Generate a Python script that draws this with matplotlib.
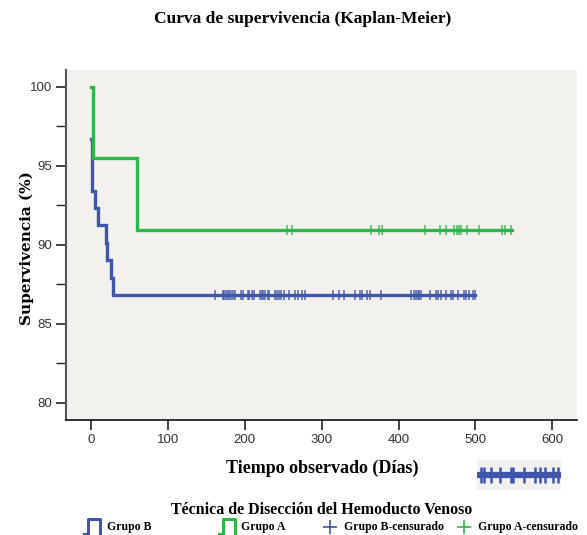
import matplotlib
matplotlib.use("Agg")
import matplotlib.pyplot as plt
from matplotlib.lines import Line2D
import numpy as np

# ---- data ----
# Grupo B: step function (time of event, survival after event)
b_times = [0, 1.7, 5.2, 8.7, 19.5, 21.2, 26.0, 29.0]
b_surv = [96.7, 93.42, 92.34, 91.25, 90.13, 89.03, 87.91, 86.82]
b_end = 500
b_cens = [161.4, 171.4, 173.1, 175.7, 178.3, 180.0, 182.2, 184.4, 187.0, 194.8,
          198.3, 203.9, 205.6, 210.0, 212.2, 220.0, 222.6, 224.3, 226.9, 229.9,
          232.1, 239.9, 242.5, 245.1, 247.3, 251.2, 258.1, 264.7, 268.6, 274.2,
          277.7, 314.5, 322.8, 329.3, 342.7, 350.1, 352.3, 358.8, 363.1, 377.5,
          416.1, 419.5, 422.6, 424.8, 426.9, 429.1, 441.2, 448.6, 450.8, 455.1,
          461.6, 468.6, 470.3, 477.2, 484.6, 487.7, 491.1, 496.8, 499.8]

# Grupo A
a_times = [0, 3.0, 60.0]
a_surv = [100.0, 95.45, 90.91]
a_end = 548
a_cens = [254.7, 261.2, 364.4, 374.0, 378.3, 434.7, 454.3, 461.6, 471.6, 475.9,
          478.1, 481.6, 489.0, 505.0, 534.5, 538.9, 546.2]

xticks = [0, 100, 200, 300, 400, 500, 600]
yticks = [80, 85, 90, 95, 100]

title = "Curva de supervivencia (Kaplan-Meier)"
xlabel = "Tiempo observado (Días)"
ylabel = "Supervivencia (%)"
legend_title = "Técnica de Disección del Hemoducto Venoso"
legend_labels = ["Grupo B", "Grupo A", "Grupo B-censurado", "Grupo A-censurado"]

BLUE = "#3F56AA"
GREEN = "#2FB64A"
BG = "#F2F1EE"
SERIF = ["Liberation Serif", "DejaVu Serif"]
WIDESERIF = ["DejaVu Serif"]
SANS = ["Liberation Sans Narrow", "Liberation Sans", "DejaVu Sans"]

W, H = 587, 535
fig = plt.figure(figsize=(W / 100, H / 100), dpi=100)
ax = fig.add_axes([66 / W, 1 - 420 / H, (577 - 66) / W, (420 - 70) / H])
ax.set_facecolor(BG)


def step_xy(times, surv, end):
    xs = list(times) + [end]
    ys = list(surv) + [surv[-1]]
    return xs, ys


bx, by = step_xy(b_times, b_surv, b_end)
ax.step(bx, by, where="post", color=BLUE, lw=2.4, solid_joinstyle="miter", zorder=3)
ax.plot(b_cens, [b_surv[-1]] * len(b_cens), ls="none", marker="|", ms=7, mew=1.1,
        color=BLUE, alpha=0.9, zorder=4)

axx, ay = step_xy(a_times, a_surv, a_end)
ax.step(axx, ay, where="post", color=GREEN, lw=2.4, solid_joinstyle="miter", zorder=3)
ax.plot(a_cens, [a_surv[-1]] * len(a_cens), ls="none", marker="|", ms=7, mew=1.1,
        color=GREEN, alpha=0.9, zorder=4)

ax.set_xlim(-32.5, 632)
ax.set_ylim(78.9, 101.05)
ax.set_xticks(xticks)
ax.set_yticks(yticks)
ax.set_yticks([82.5, 87.5, 92.5, 97.5], minor=True)
ax.tick_params(axis="both", which="major", length=7, width=1.2, color="#222222",
               labelsize=9.5, labelcolor="#333333", direction="out", pad=3)
ax.tick_params(axis="y", which="minor", length=7, width=1.0, color="#222222")
for lab in ax.get_xticklabels() + ax.get_yticklabels():
    lab.set_family(SANS)
ax.spines["top"].set_visible(False)
ax.spines["right"].set_visible(False)
ax.spines["left"].set_color("#555555")
ax.spines["left"].set_linewidth(1.5)
ax.spines["bottom"].set_color("#111111")
ax.spines["bottom"].set_linewidth(1.2)

fig.text(303 / W, 1 - 19 / H, title, ha="center", va="center", fontsize=12.5,
         fontweight="bold", family=SERIF)
fig.text(322 / W, 1 - 468 / H, xlabel, ha="center", va="center", fontsize=13,
         fontweight="bold", family=SERIF)
fig.text(27 / W, 1 - 248 / H, ylabel, ha="center", va="center", rotation=90,
         fontsize=11, fontweight="bold", family=WIDESERIF)

# small inset fragment
ins = fig.add_axes([477 / W, 1 - 490 / H, (561 - 477) / W, (490 - 460) / H])
ins.set_facecolor(BG)
sel = [c for c in b_cens if c >= 446]
ins.plot([440, 500.5], [b_surv[-1]] * 2, color=BLUE, lw=4.5)
ins.plot(sel, [b_surv[-1]] * len(sel), ls="none", marker="|", ms=11, mew=1.8,
         color=BLUE)
ins.set_xlim(446, 502)
ins.set_ylim(b_surv[-1] - 1, b_surv[-1] + 1)
ins.set_xticks([])
ins.set_yticks([])
for s in ins.spines.values():
    s.set_visible(False)

# legend (manual)
fig.text(322 / W, 1 - 510 / H, legend_title, ha="center", va="center", fontsize=11.5,
         fontweight="bold", family=SERIF)
ly = 1 - 527 / H


def step_icon(x0, color):
    xs = np.array([x0, x0 + 4, x0 + 4, x0 + 16, x0 + 16]) / W
    ys = 1 - np.array([534, 534, 519, 519, 534]) / H
    fig.add_artist(Line2D(xs, ys, color=color, lw=2.2, transform=fig.transFigure))


step_icon(84, BLUE)
fig.text(107 / W, ly, legend_labels[0], ha="left", va="center", fontsize=8.5,
         fontweight="bold", family=SERIF)
step_icon(219, GREEN)
fig.text(241 / W, ly, legend_labels[1], ha="left", va="center", fontsize=8.5,
         fontweight="bold", family=SERIF)
fig.add_artist(Line2D([330 / W], [ly], marker="+", ms=10, mew=1.2, color=BLUE,
                      transform=fig.transFigure))
fig.text(344 / W, ly, legend_labels[2], ha="left", va="center", fontsize=8.5,
         fontweight="bold", family=SERIF)
fig.add_artist(Line2D([464 / W], [ly], marker="+", ms=10, mew=1.2, color=GREEN,
                      transform=fig.transFigure))
fig.text(478 / W, ly, legend_labels[3], ha="left", va="center", fontsize=8.5,
         fontweight="bold", family=SERIF)

fig.savefig("out.png", dpi=100)
